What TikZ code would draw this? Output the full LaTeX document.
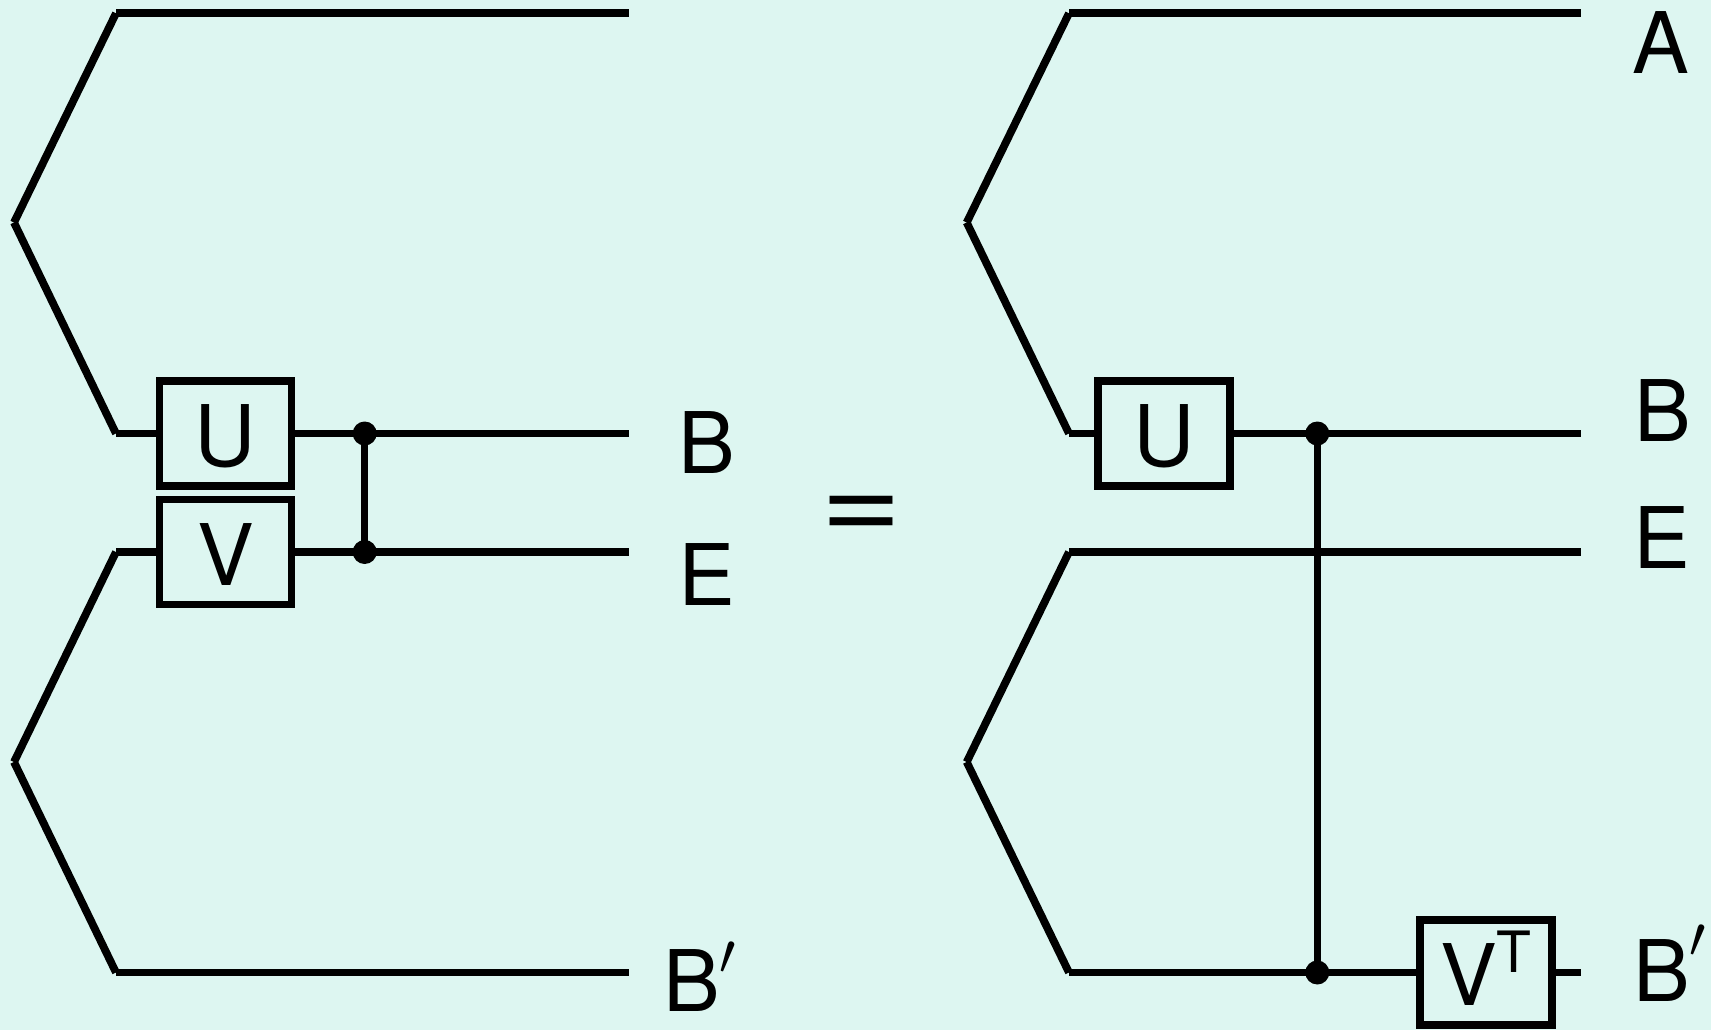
\documentclass[tikz,border=0pt]{standalone}
\usepackage{fontspec}
\usepackage{graphicx}
\setmainfont{TeX Gyre Heros}
\definecolor{bgc}{HTML}{DDF6F1}
\newcommand{\lblfont}{\fontsize{85}{85}\selectfont}
\newcommand{\primemark}[1]{\kern-0.5pt\smash{\raisebox{#1}{\scalebox{2.35}{$\prime$}}}}
\newcommand{\gatetext}[1]{\raisebox{-2.5pt}[\height][\depth]{#1}}
\tikzset{
  wire/.style={draw=black,line width=7.8pt,line cap=butt},
  link/.style={draw=black,line width=7.2pt},
  gate/.style={draw=black,line width=7.8pt,minimum width=132pt,minimum height=105pt,inner sep=0pt,font=\lblfont,text=black},
  dotn/.style={circle,fill=black,draw=none,minimum size=24pt,inner sep=0pt},
  lbl/.style={inner sep=0pt,font=\lblfont,text=black},
  eqsign/.style={inner sep=0pt,text=black,font=\fontsize{118}{118}\selectfont,xscale=1.19}
}
\begin{document}
\begin{tikzpicture}[x=1pt,y=-1pt]
\useasboundingbox (0,0) rectangle (1711,1030);
\fill[bgc] (0,0) rectangle (1711,1030);
% left panel
\coordinate (la1) at (116,13.3);
\coordinate (la2) at (628.5,13.3);
\coordinate (lap1) at (14,222.5);
\coordinate (lb1) at (116,433.5);
\coordinate (lb2) at (628.5,433.5);
\coordinate (le1) at (116,552);
\coordinate (le2) at (628.5,552);
\coordinate (lap2) at (14,762);
\coordinate (lc1) at (116,972.5);
\coordinate (lc2) at (628.5,972.5);
\node[gate] (lU) at (225.4,433.5) {\gatetext{U}};
\node[gate] (lV) at (225.4,552) {\gatetext{V}};
\node[dotn] (ld1) at (364.7,433.5) {};
\node[dotn] (ld2) at (364.7,552) {};
\draw[wire] (la1) -- (la2);
\draw[wire] (la1) -- (lap1);
\draw[wire] (lap1) -- (lb1);
\draw[wire] (lb1) -- (lU.west);
\draw[wire] (lU.east) -- (lb2);
\draw[wire] (le1) -- (lV.west);
\draw[wire] (lV.east) -- (le2);
\draw[wire] (le1) -- (lap2);
\draw[wire] (lap2) -- (lc1);
\draw[wire] (lc1) -- (lc2);
\draw[link] (ld1.center) -- (ld2.center);
\node[lbl] (tB) at (707,442.5) {B};
\node[lbl] (tE) at (707,574.5) {E};
\node[lbl,anchor=west] (tBp) at (663,981) {B\primemark{37pt}};
% equals
\node[eqsign] (eq) at (861,518) {=};
% right panel
\coordinate (ra1) at (1069,13.3);
\coordinate (ra2) at (1581,13.3);
\coordinate (rap1) at (966.7,222.5);
\coordinate (rb1) at (1069,433.5);
\coordinate (rb2) at (1581,433.5);
\coordinate (re1) at (1069,552);
\coordinate (re2) at (1581,552);
\coordinate (rap2) at (966.7,762);
\coordinate (rc1) at (1069,972.5);
\coordinate (rc2) at (1581,972.5);
\node[gate] (rU) at (1164,433.5) {\gatetext{U}};
\node[gate] (rV) at (1485.8,972.5) {\gatetext{V\smash{\raisebox{33pt}{\fontsize{57}{57}\selectfont T}}}};
\node[dotn] (rd1) at (1317.3,433.5) {};
\node[dotn] (rd2) at (1317.3,972.5) {};
\draw[wire] (ra1) -- (ra2);
\draw[wire] (ra1) -- (rap1);
\draw[wire] (rap1) -- (rb1);
\draw[wire] (rb1) -- (rU.west);
\draw[wire] (rU.east) -- (rb2);
\draw[wire] (re1) -- (re2);
\draw[wire] (re1) -- (rap2);
\draw[wire] (rap2) -- (rc1);
\draw[wire] (rc1) -- (rV.west);
\draw[wire] (rV.east) -- (rc2);
\draw[link] (rd1.center) -- (rd2.center);
\node[lbl] (tA2) at (1661,43) {A};
\node[lbl] (tB2) at (1663,411) {B};
\node[lbl] (tE2) at (1662,538) {E};
\node[lbl,anchor=west] (tBp2) at (1633,971) {B\primemark{44pt}};
\end{tikzpicture}
\end{document}
